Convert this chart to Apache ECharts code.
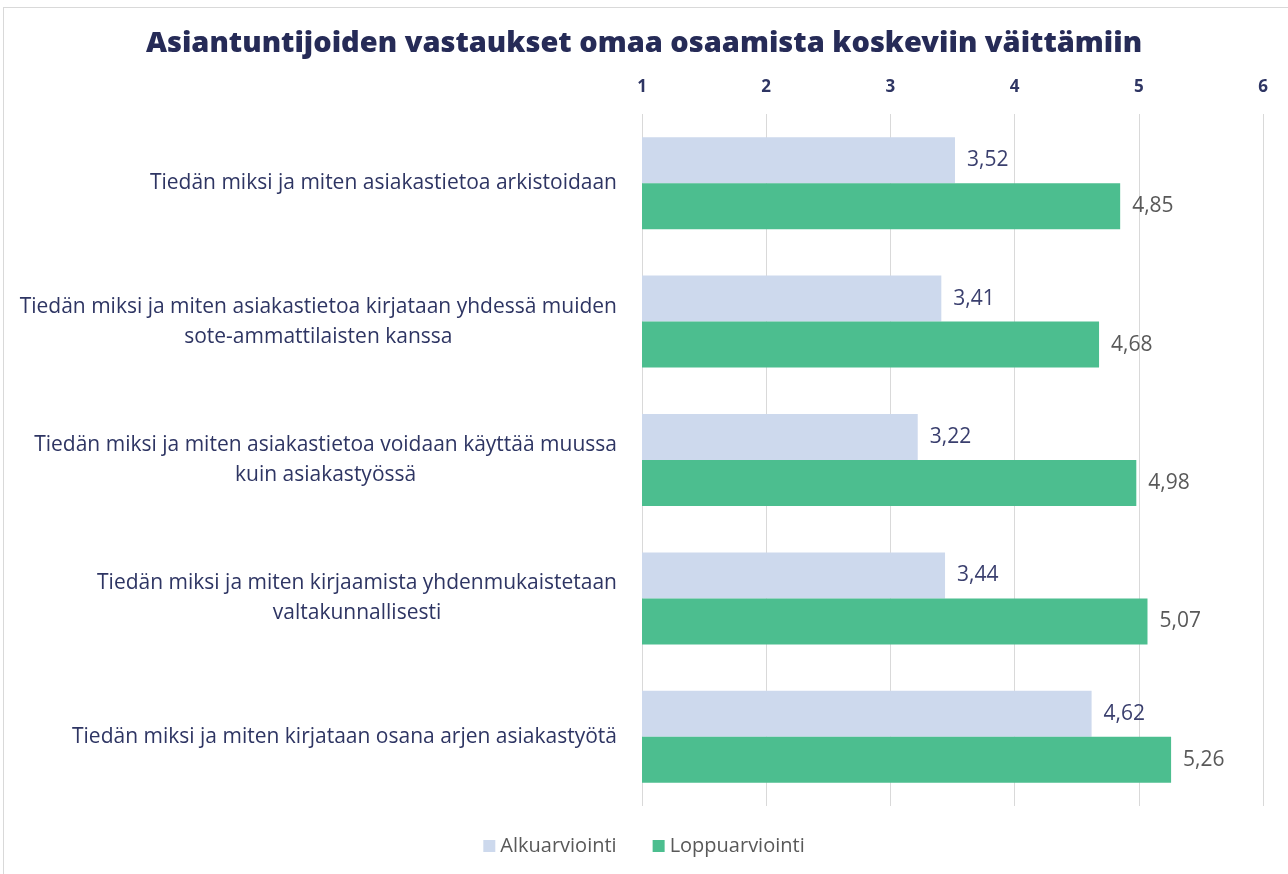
<!DOCTYPE html>
<html>
<head>
<meta charset="utf-8">
<script src="https://cdn.jsdelivr.net/npm/echarts@6/dist/echarts.min.js"></script>
<style>
    html, body { margin: 0; padding: 0; background: #fff; }
    #frame { position: absolute; left: 3px; top: 7px; width: 1290px; height: 880px; border: 1px solid #d9d9d9; box-sizing: border-box; }
    #chart { position: absolute; left: 0; top: 0; width: 1288px; height: 874px; }
</style>
</head>
<body>
<div id="frame"></div>
<div id="chart"></div>
<script>
var categories = [
    'Tiedän miksi ja miten asiakastietoa arkistoidaan',
    'Tiedän miksi ja miten asiakastietoa kirjataan yhdessä muiden\nsote-ammattilaisten kanssa',
    'Tiedän miksi ja miten asiakastietoa voidaan käyttää muussa\nkuin asiakastyössä',
    'Tiedän miksi ja miten kirjaamista yhdenmukaistetaan\nvaltakunnallisesti',
    'Tiedän miksi ja miten kirjataan osana arjen asiakastyötä'
];
var alkuarviointi = [3.52, 3.41, 3.22, 3.44, 4.62];
var loppuarviointi = [4.85, 4.68, 4.98, 5.07, 5.26];
var seriesNames = ['Alkuarviointi', 'Loppuarviointi'];

var font = '"Open Sans", "Noto Sans", sans-serif';

function fmt(v) {
    return String(v.toFixed(2)).replace('.', ',');
}

var chart = echarts.init(document.getElementById('chart'));
var option = {
    backgroundColor: 'transparent',
    animation: false,
    title: {
        text: 'Asiantuntijoiden vastaukset omaa osaamista koskeviin väittämiin',
        left: 'center',
        top: 24,
        textStyle: {
            fontFamily: '"Noto Sans", sans-serif',
            fontWeight: 900,
            fontSize: 29,
            color: '#262b57'
        }
    },
    legend: {
        bottom: 13,
        left: 'center',
        itemWidth: 12,
        itemHeight: 12,
        itemGap: 36,
        icon: 'rect',
        data: seriesNames,
        textStyle: { fontFamily: font, fontSize: 20, color: '#595959' }
    },
    grid: {
        left: 642,
        right: 25,
        top: 114,
        bottom: 68
    },
    xAxis: {
        type: 'value',
        position: 'top',
        min: 1,
        max: 6,
        interval: 1,
        axisLine: { show: false },
        axisTick: { show: false },
        splitLine: { lineStyle: { color: '#d9d9d9', width: 1 } },
        axisLabel: {
            margin: 18,
            fontFamily: font,
            fontWeight: 'bold',
            fontSize: 17,
            color: '#2e3563'
        }
    },
    yAxis: {
        type: 'category',
        inverse: true,
        data: categories,
        axisLine: { show: false },
        axisTick: { show: false },
        axisLabel: {
            margin: 25,
            align: 'right',
            formatter: function (value) {
                return value.split('\n').map(function (line) {
                    return '{c|' + line + '}';
                }).join('\n');
            },
            rich: {
                c: {
                    align: 'center',
                    fontFamily: font,
                    fontSize: 21,
                    lineHeight: 30,
                    color: '#2e3563'
                }
            }
        }
    },
    series: [
        {
            name: seriesNames[0],
            type: 'bar',
            data: alkuarviointi,
            barWidth: 46,
            barGap: '0%',
            itemStyle: { color: '#cdd9ed' },
            label: {
                show: true,
                position: 'right',
                distance: 12,
                formatter: function (p) { return fmt(p.value); },
                fontFamily: font,
                fontSize: 21,
                color: '#3a3f6e'
            }
        },
        {
            name: seriesNames[1],
            type: 'bar',
            data: loppuarviointi,
            barWidth: 46,
            barGap: '0%',
            itemStyle: { color: '#4cbe8f' },
            label: {
                show: true,
                position: 'right',
                distance: 12,
                formatter: function (p) { return fmt(p.value); },
                fontFamily: font,
                fontSize: 21,
                color: '#595959'
            }
        }
    ]
};
chart.setOption(option);
</script>
</body>
</html>
